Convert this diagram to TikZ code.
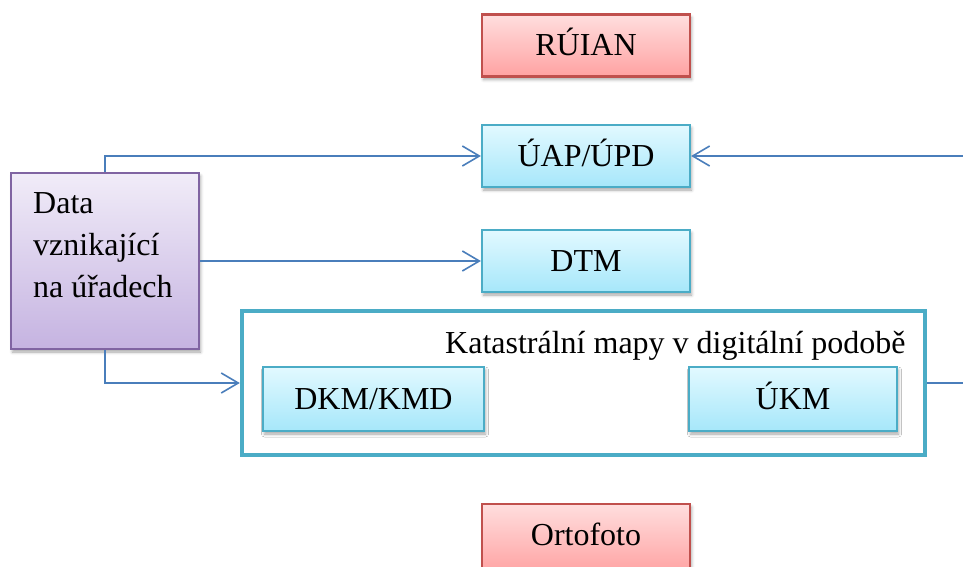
\documentclass[tikz,border=0pt]{standalone}
\usepackage{fontspec}
\setmainfont{Liberation Serif}
\usetikzlibrary{arrows.meta,shadows.blur}

\definecolor{redline}{HTML}{C0504D}
\definecolor{redtop}{HTML}{FFDEDE}
\definecolor{redbot}{HTML}{FFA2A2}
\definecolor{cyanline}{HTML}{4BACC6}
\definecolor{cyantop}{HTML}{E2F9FF}
\definecolor{cyanbot}{HTML}{A6E7FA}
\definecolor{purpline}{HTML}{8064A2}
\definecolor{purptop}{HTML}{F1ECF8}
\definecolor{purpbot}{HTML}{C5B3E1}
\definecolor{arrowblue}{HTML}{4A7EBB}

\tikzset{
  box/.style={rectangle, line width=2.2pt, inner sep=0pt,
    minimum width=208pt, minimum height=62pt,
    font=\fontsize{32}{38}\selectfont, text height=21pt, text depth=0pt,
    blur shadow={shadow xshift=1.5pt, shadow yshift=-3pt,
      shadow blur radius=3pt, shadow opacity=35}},
  redbox/.style={box, draw=redline, top color=redtop, bottom color=redbot},
  cyanbox/.style={box, draw=cyanline, top color=cyantop, bottom color=cyanbot},
  purpbox/.style={box, draw=purpline, top color=purptop, bottom color=purpbot},
  groupframe/.style={rectangle, draw=cyanline, line width=4.4pt, fill=white,
    inner sep=0pt},
  link/.style={draw=arrowblue, line width=1.6pt},
  linkarrow/.style={link, -{Straight Barb[length=17pt, width=20pt, line width=1.6pt]}},
  label/.style={font=\fontsize{32}{42}\selectfont, inner sep=0pt},
}

\begin{document}
\begin{tikzpicture}[x=1pt, y=-1pt]
  \useasboundingbox (0,0) rectangle (963,567);

  % top and bottom reference datasets (the lower one runs off the page)
  \node[redbox] (ruian) at (586,45.5) {RÚIAN};
  \node[redbox, minimum height=70pt, text depth=8pt] (orto) at (586,539) {Ortofoto};

  % datasets fed from the offices
  \node[cyanbox] (uap) at (586,156) {ÚAP/ÚPD};
  \node[cyanbox] (dtm) at (586,261) {DTM};

  % source of the data
  \node[purpbox, minimum width=188pt, minimum height=176pt] (data) at (105,261) {};
  \node[label, anchor=north west, align=left] (datatxt) at (33,192)
    {Data\\vznikající\\na úřadech};

  % cadastral maps group
  \node[groupframe, minimum width=683pt, minimum height=144pt] (frame) at (583.5,383) {};
  \node[label, anchor=base west] (frametxt) at (445,353)
    {Katastrální mapy v digitální podobě};
  \node[cyanbox, minimum width=221pt, minimum height=64pt] (dkm) at (373.5,399) {DKM/KMD};
  \node[cyanbox, minimum height=64pt] (ukm) at (793,399) {ÚKM};

  % connectors
  \coordinate (eastin) at (963,156);
  \coordinate (eastout) at (963,383);
  \draw[linkarrow] (data.north) |- (uap.west);
  \draw[linkarrow] (data.east) -- (dtm.west);
  \draw[linkarrow] (data.south) |- (frame.west);
  \draw[linkarrow] (eastin) -- (uap.east);
  \draw[link] (frame.east) -- (eastout);
\end{tikzpicture}
\end{document}
